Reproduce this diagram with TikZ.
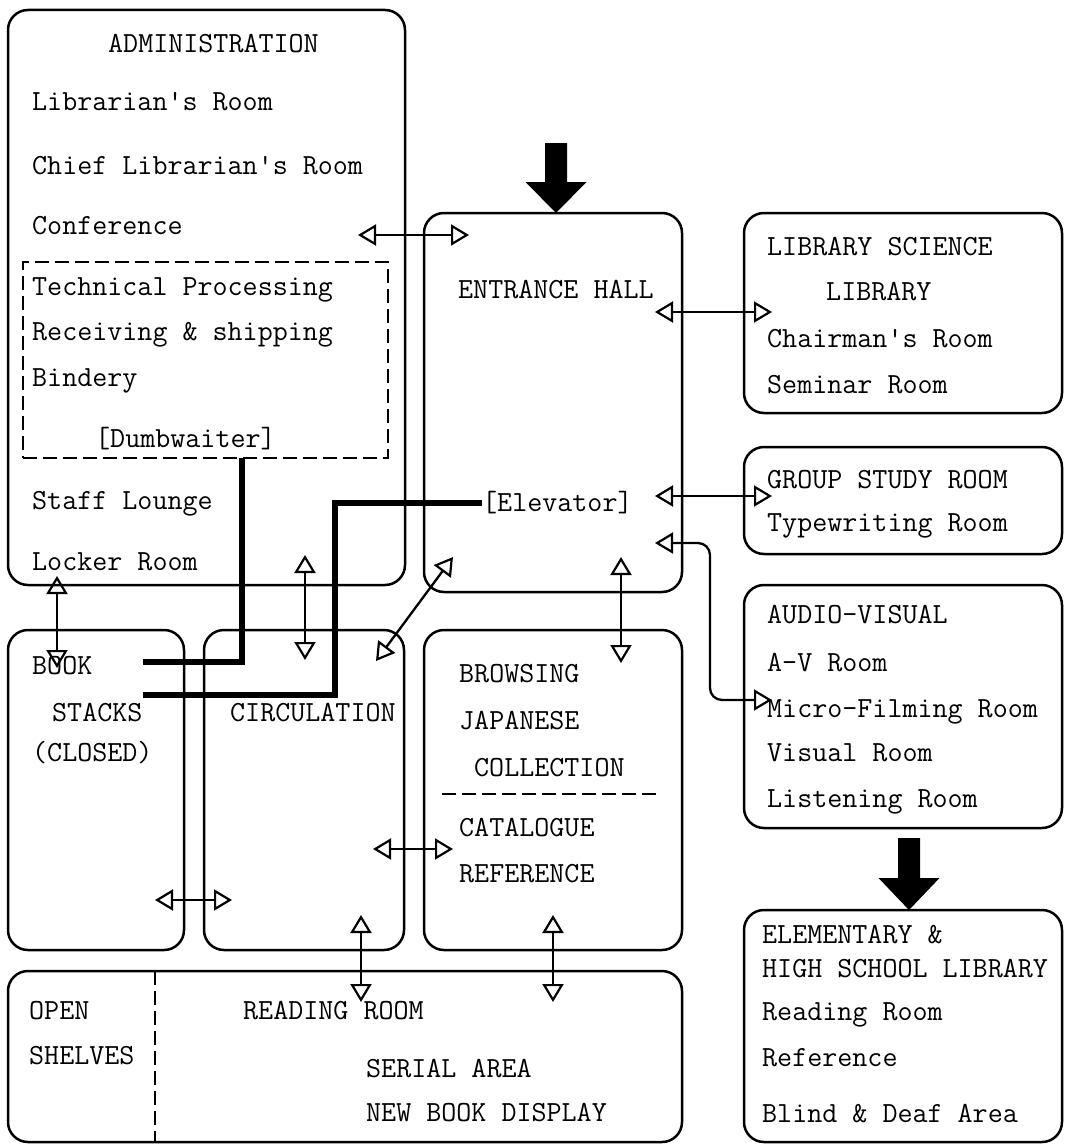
\documentclass[tikz,border=0pt]{standalone}
\usepackage{fontspec}
\usetikzlibrary{arrows.meta}
\newcommand\twfont{\ttfamily\addfontfeatures{FakeBold=1.5}\fontsize{29.2}{31}\selectfont}
\begin{document}
\begin{tikzpicture}[x=1pt,y=-1pt,
  room/.style={draw, line width=2.5pt, rounded corners=20pt, inner sep=0pt},
  lbl/.style={anchor=base west, inner sep=0pt, font=\twfont},
  link/.style={line width=2.3pt, {Triangle[open,length=18pt,width=21pt,line width=2.2pt]}-{Triangle[open,length=18pt,width=21pt,line width=2.2pt]}},
  lift/.style={line width=6.5pt},
  dashline/.style={line width=2.2pt, dash pattern=on 14pt off 6pt}]
\useasboundingbox (0,0) rectangle (1065,1145);
\fill[white] (0,0) rectangle (1065,1145);

% rooms
\node[room, minimum width=397pt, minimum height=575pt] (admin) at (206.5,297.5) {};
\node[room, minimum width=258pt, minimum height=379pt] (hall) at (553,402.5) {};
\node[room, minimum width=318pt, minimum height=200pt] (libsci) at (903,313) {};
\node[room, minimum width=318pt, minimum height=107pt] (group) at (903,500.5) {};
\node[room, minimum width=318pt, minimum height=243pt] (av) at (903,706.5) {};
\node[room, minimum width=318pt, minimum height=232pt] (elem) at (903,1026) {};
\node[room, minimum width=176pt, minimum height=320pt] (stacks) at (96,790) {};
\node[room, minimum width=200pt, minimum height=320pt] (circ) at (304,790) {};
\node[room, minimum width=258pt, minimum height=320pt] (browse) at (553,790) {};
\node[room, minimum width=674pt, minimum height=171pt] (reading) at (345,1056.5) {};

% dashed sub-areas
\node[draw, dashline, minimum width=365pt, minimum height=196pt, inner sep=0pt] (tech) at (205.5,360) {};
\draw[dashline] (442,794) -- (662,794);
\draw[dashline] (155,971) -- (155,1142);

% labels
\node[lbl] (t1) at (108,53) {ADMINISTRATION};
\node[lbl] (t2) at (32,111) {Librarian's Room};
\node[lbl] (t3) at (32,174) {Chief Librarian's Room};
\node[lbl] (t4) at (32,234) {Conference};
\node[lbl] (t5) at (32,295) {Technical Processing};
\node[lbl] (t6) at (32,340) {Receiving \& shipping};
\node[lbl] (t7) at (32,386) {Bindery};
\node[lbl] (t8) at (95,447) {[Dumbwaiter]};
\node[lbl] (t9) at (32,509) {Staff Lounge};
\node[lbl] (t10) at (32,570) {Locker Room};

\node[lbl] (h1) at (458,298) {ENTRANCE HALL};
\node[lbl] (elev) at (482,511) {[Elevator]};

\node[lbl] (l1) at (767,255) {LIBRARY SCIENCE};
\node[lbl] (l2) at (826,300) {LIBRARY};
\node[lbl] (l3) at (767,347) {Chairman's Room};
\node[lbl] (l4) at (767,393) {Seminar Room};

\node[lbl] (g1) at (767,488) {GROUP STUDY ROOM};
\node[lbl] (g2) at (767,531) {Typewriting Room};

\node[lbl] (a1) at (767,623) {AUDIO-VISUAL};
\node[lbl] (a2) at (767,671) {A-V Room};
\node[lbl] (a3) at (767,717) {Micro-Filming Room};
\node[lbl] (a4) at (767,761) {Visual Room};
\node[lbl] (a5) at (767,807) {Listening Room};

\node[lbl] (e1) at (762,943) {ELEMENTARY \&};
\node[lbl] (e2) at (762,977) {HIGH SCHOOL LIBRARY};
\node[lbl] (e3) at (762,1020) {Reading Room};
\node[lbl] (e4) at (762,1066) {Reference};
\node[lbl] (e5) at (762,1122) {Blind \& Deaf Area};

\node[lbl] (s1) at (32,674) {BOOK};
\node[lbl] (s2) at (52,721) {STACKS};
\node[lbl] (s3) at (32,761) {(CLOSED)};

\node[lbl] (c1) at (230,721) {CIRCULATION};

\node[lbl] (b1) at (459,682) {BROWSING};
\node[lbl] (b2) at (459,729) {JAPANESE};
\node[lbl] (b3) at (474,776) {COLLECTION};
\node[lbl] (b4) at (459,836) {CATALOGUE};
\node[lbl] (b5) at (459,882) {REFERENCE};

\node[lbl] (r1) at (29,1019) {OPEN};
\node[lbl] (r2) at (29,1064) {SHELVES};
\node[lbl] (r3) at (243,1019) {READING ROOM};
\node[lbl] (r4) at (366,1077) {SERIAL AREA};
\node[lbl] (r5) at (366,1121) {NEW BOOK DISPLAY};

% connector end points
\coordinate (conf-e) at (358,235);  \coordinate (hall-w1) at (469,235);
\coordinate (hall-e1) at (655,312); \coordinate (lib-w) at (772,312);
\coordinate (hall-e2) at (655,496); \coordinate (grp-w) at (772,496);
\coordinate (hall-e3) at (655,543); \coordinate (av-w) at (772,700);
\coordinate (adm-s1) at (57,576);   \coordinate (stk-n) at (57,668);
\coordinate (adm-s2) at (305,555);  \coordinate (circ-n) at (305,660);
\coordinate (hall-s1) at (453,557); \coordinate (circ-ne) at (376,661);
\coordinate (hall-s2) at (621,557); \coordinate (brw-n) at (621,663);
\coordinate (stk-e) at (155,900);   \coordinate (circ-w) at (232,900);
\coordinate (circ-e) at (373,849);  \coordinate (brw-w) at (453,849);
\coordinate (circ-s) at (361,915);  \coordinate (rd-n1) at (361,1002);
\coordinate (brw-s) at (553,915);   \coordinate (rd-n2) at (553,1002);

% double-headed connectors
\draw[link] (conf-e) -- (hall-w1);
\draw[link] (hall-e1) -- (lib-w);
\draw[link] (hall-e2) -- (grp-w);
\draw[link, rounded corners=12pt] (hall-e3) -- ++(55,0) |- (av-w);
\draw[link] (adm-s1) -- (stk-n);
\draw[link] (adm-s2) -- (circ-n);
\draw[link] (hall-s1) -- (circ-ne);
\draw[link] (hall-s2) -- (brw-n);
\draw[link] (stk-e) -- (circ-w);
\draw[link] (circ-e) -- (brw-w);
\draw[link] (circ-s) -- (rd-n1);
\draw[link] (brw-s) -- (rd-n2);

% dumbwaiter and elevator shafts
\coordinate (dw-top) at (242,458);
\coordinate (dw-end) at (143,662);
\coordinate (el-end) at (143,695);
\draw[lift] (dw-top) |- (dw-end);
\draw[lift] (elev.west |- 0,503) -| (335,695) -- (el-end);

% big entrance arrows
\fill (545,143) -- (567,143) -- (567,182) -- (586.5,182) -- (556,213) -- (525.5,182) -- (545,182) -- cycle;
\fill (898,838) -- (920,838) -- (920,878) -- (939.5,878) -- (909,910) -- (878.5,878) -- (898,878) -- cycle;
\end{tikzpicture}
\end{document}
